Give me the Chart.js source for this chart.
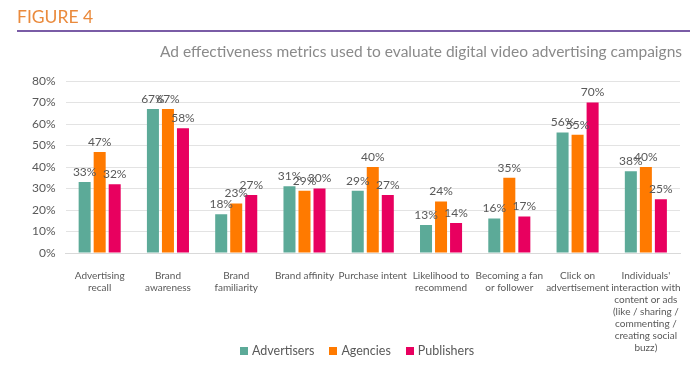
<!DOCTYPE html>
<html>
<head>
<meta charset="utf-8">
<script src="https://cdn.jsdelivr.net/npm/chart.js@4/dist/chart.umd.min.js"></script>
<style>
  html, body { margin: 0; padding: 0; background: #fff; }
  #wrap { position: relative; width: 700px; height: 365px; font-family: Lato, sans-serif; }
  #fig { position: absolute; left: 17px; top: 6px; font-size: 17.5px; color: #ea8a3c; }
  #rule { position: absolute; left: 17px; top: 30px; width: 673px; height: 2px; background: #7a5ca6; }
  #sub { position: absolute; right: 18px; top: 42px; font-size: 15.5px; color: #8a8a8a; }
  #legend { position: absolute; left: 240px; top: 343px; display: flex; font-size: 12.5px; color: #595959; line-height: 16px; }
  #legend span { display: flex; align-items: center; margin-right: 15px; }
  #legend i { display: inline-block; width: 8px; height: 8px; margin-right: 4px; }
  canvas { position: absolute; left: 0; top: 0; }
</style>
</head>
<body>
<div id="wrap">
  <canvas id="adChart" width="700" height="365"></canvas>
  <div id="fig">FIGURE 4</div>
  <div id="rule"></div>
  <div id="sub">Ad effectiveness metrics used to evaluate digital video advertising campaigns</div>
  <div id="legend"></div>
</div>
<script>
const categories = [
  ['Advertising', 'recall'],
  ['Brand', 'awareness'],
  ['Brand', 'familiarity'],
  'Brand affinity',
  'Purchase intent',
  ['Likelihood to', 'recommend'],
  ['Becoming a fan', 'or follower'],
  ['Click on', 'advertisement'],
  ['Individuals\'', 'interaction with', 'content or ads', '(like / sharing /', 'commenting /', 'creating social', 'buzz)']
];
const seriesNames = ['Advertisers', 'Agencies', 'Publishers'];
const advertisers = [33, 67, 18, 31, 29, 13, 16, 56, 38];
const agencies = [47, 67, 23, 29, 40, 24, 35, 55, 40];
const publishers = [32, 58, 27, 30, 27, 14, 17, 70, 25];
const yTicks = [0, 10, 20, 30, 40, 50, 60, 70, 80];
const colors = ['#5caa98', '#ff7a00', '#e8005f'];

// draws the value above each bar
const valueLabels = {
  id: 'valueLabels',
  afterDatasetsDraw(chart) {
    const ctx = chart.ctx;
    ctx.save();
    ctx.font = '12px Lato';
    ctx.fillStyle = '#595959';
    ctx.textAlign = 'center';
    ctx.textBaseline = 'bottom';
    chart.data.datasets.forEach((ds, i) => {
      chart.getDatasetMeta(i).data.forEach((bar, j) => {
        ctx.fillText(ds.data[j] + '%', bar.x, bar.y - 4);
      });
    });
    ctx.restore();
  }
};

const ctx = document.getElementById('adChart').getContext('2d');
const adChart = new Chart(ctx, {
  type: 'bar',
  data: {
    labels: categories,
    datasets: [
      { label: seriesNames[0], data: advertisers, backgroundColor: colors[0] },
      { label: seriesNames[1], data: agencies, backgroundColor: colors[1] },
      { label: seriesNames[2], data: publishers, backgroundColor: colors[2] }
    ]
  },
  options: {
    responsive: false,
    animation: false,
    categoryPercentage: 0.66,
    barPercentage: 0.8,
    layout: { padding: { top: 81, left: 22, right: 20, bottom: 2 } },
    plugins: {
      legend: { display: false },
      tooltip: { enabled: false }
    },
    scales: {
      x: {
        grid: { display: false },
        border: { color: '#d9d9d9' },
        ticks: { color: '#595959', maxRotation: 0, autoSkip: false, padding: 9, font: { family: 'Lato', size: 10, lineHeight: 1.2 } }
      },
      y: {
        min: 0,
        max: 80,
        afterBuildTicks(scale) { scale.ticks = yTicks.map(v => ({ value: v })); },
        grid: { color: '#e3e3e3', drawTicks: false },
        border: { display: false },
        ticks: { color: '#595959', padding: 10, font: { family: 'Lato', size: 12 }, callback: v => v + '%' }
      }
    }
  },
  plugins: [valueLabels]
});

// legend as html under the plot
const legendBox = document.getElementById('legend');
adChart.data.datasets.forEach(ds => {
  const item = document.createElement('span');
  item.innerHTML = '<i style="background:' + ds.backgroundColor + '"></i>' + ds.label;
  legendBox.appendChild(item);
});
</script>
</body>
</html>
